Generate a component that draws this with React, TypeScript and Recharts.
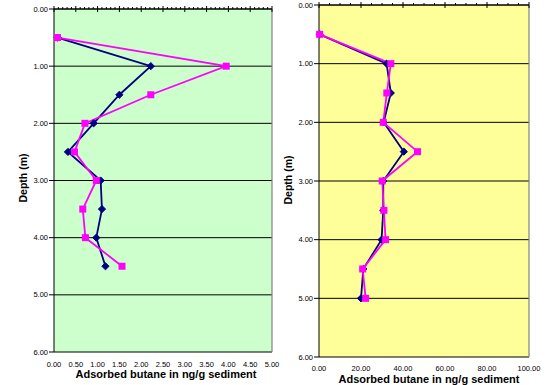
import React from 'react';
import { LineChart, Line, XAxis, YAxis, CartesianGrid, ReferenceLine } from 'recharts';

// depth profile values
const depthTicks = [0, 1, 2, 3, 4, 5, 6];

const leftDepths = [0.5, 1.0, 1.5, 2.0, 2.5, 3.0, 3.5, 4.0, 4.5];
const leftNavy = [0.08, 2.22, 1.5, 0.91, 0.32, 1.07, 1.1, 0.97, 1.18];
const leftPink = [0.08, 3.95, 2.22, 0.71, 0.47, 0.97, 0.66, 0.72, 1.56];
const leftXTicks = [0, 0.5, 1, 1.5, 2, 2.5, 3, 3.5, 4, 4.5, 5];

const rightDepths = [0.5, 1.0, 1.5, 2.0, 2.5, 3.0, 3.5, 4.0, 4.5, 5.0];
const rightNavy = [0.3, 32.2, 34.2, 30.8, 40.4, 30.6, 30.6, 29.8, 21.1, 20.0];
const rightPink = [0.3, 34.2, 32.3, 30.6, 46.9, 30.1, 30.9, 31.7, 20.8, 22.2];
const rightXTicks = [0, 20, 40, 60, 80, 100];

const FONT = '"Liberation Sans", Arial, sans-serif';
const NAVY = '#000080';
const PINK = '#FF00FF';

const fmt = (v: number) => v.toFixed(2);

function minorTicks(max: number, step: number) {
  const out: number[] = [];
  const n = Math.round(max / step);
  for (let i = 0; i <= n; i++) out.push(+(i * step).toFixed(4));
  return out;
}

const Diamond = (props: any) => {
  const { cx, cy, index } = props;
  if (cx == null || cy == null) return <g key={`d-${index}`} />;
  const r = 3.6;
  return (
    <polygon
      key={`d-${index}`}
      points={`${cx},${cy - r} ${cx + r},${cy} ${cx},${cy + r} ${cx - r},${cy}`}
      fill={NAVY}
      stroke={NAVY}
    />
  );
};

const Square = (props: any) => {
  const { cx, cy, index } = props;
  if (cx == null || cy == null) return <g key={`s-${index}`} />;
  const r = 3.5;
  return <rect key={`s-${index}`} x={cx - r} y={cy - r} width={2 * r} height={2 * r} fill={PINK} />;
};

type PanelProps = {
  data: any[];
  xMax: number;
  xTicks: number[];
  minorStep: number;
  majorStep: number;
  bg: string;
  width: number;
  margin: { top: number; right: number; left: number; bottom: number };
  yWidth: number;
  bottomH: number;
  tickGap: number;
  depthPos: [number, number];
  titlePos: [number, number];
};

function Panel(p: PanelProps) {
  const topTick = (props: any) => {
    const { x, y, payload, index } = props;
    const q = payload.value / p.majorStep;
    const major = Math.abs(q - Math.round(q)) < 1e-6;
    return (
      <line
        key={`tt-${index}`}
        x1={x}
        x2={x}
        y1={y - (major ? 3 : 2)}
        y2={y + (major ? 3 : 0)}
        stroke="#000"
        strokeWidth={1}
      />
    );
  };

  return (
    <LineChart width={p.width} height={385} data={p.data} layout="vertical" margin={p.margin}>
      <CartesianGrid xAxisId="b" yAxisId="d" vertical={false} stroke="#000" fill={p.bg} fillOpacity={1} />
      <XAxis
        xAxisId="b"
        type="number"
        orientation="bottom"
        domain={[0, p.xMax]}
        ticks={p.xTicks}
        interval={0}
        tickFormatter={fmt}
        tickSize={0}
        tickMargin={p.tickGap}
        axisLine={false}
        tickLine={false}
        height={p.bottomH}
        tick={{ fontSize: 7.5, fill: '#000', fontFamily: FONT }}
        label={{
          content: () => (
            <text
              x={p.titlePos[0]}
              y={p.titlePos[1]}
              textAnchor="middle"
              fontFamily={FONT}
              fontWeight="bold"
              fontSize={11}
              fill="#000"
            >
              Adsorbed butane in ng/g sediment
            </text>
          ),
        }}
      />
      <XAxis
        xAxisId="t"
        type="number"
        orientation="top"
        domain={[0, p.xMax]}
        allowDataOverflow
        ticks={minorTicks(p.xMax, p.minorStep)}
        interval={0}
        height={1}
        tickSize={0}
        tickMargin={0}
        tickLine={false}
        axisLine={{ stroke: '#000' }}
        tick={topTick}
      />
      <YAxis
        yAxisId="d"
        type="number"
        dataKey="depth"
        domain={[0, 6]}
        ticks={depthTicks}
        interval={0}
        width={p.yWidth}
        tickFormatter={fmt}
        tickSize={5}
        tickMargin={1}
        axisLine={{ stroke: '#000' }}
        tickLine={{ stroke: '#000' }}
        tick={{ fontSize: 7.5, fill: '#000', fontFamily: FONT }}
        label={{
          content: () => (
            <text
              x={p.depthPos[0]}
              y={p.depthPos[1]}
              transform={`rotate(-90 ${p.depthPos[0]} ${p.depthPos[1]})`}
              textAnchor="middle"
              dominantBaseline="central"
              fontFamily={FONT}
              fontWeight="bold"
              fontSize={10.5}
              fill="#000"
            >
              Depth (m)
            </text>
          ),
        }}
      />
      <ReferenceLine xAxisId="b" yAxisId="d" x={p.xMax} stroke="#808080" strokeWidth={1.2} />
      <Line
        xAxisId="b"
        yAxisId="d"
        dataKey="navy"
        type="linear"
        stroke={NAVY}
        strokeWidth={1.8}
        dot={Diamond}
        activeDot={false}
        isAnimationActive={false}
      />
      <Line
        xAxisId="b"
        yAxisId="d"
        dataKey="pink"
        type="linear"
        stroke={PINK}
        strokeWidth={1.8}
        dot={Square}
        activeDot={false}
        isAnimationActive={false}
      />
    </LineChart>
  );
}

const leftData = leftDepths.map((depth, i) => ({ depth, navy: leftNavy[i], pink: leftPink[i] }));
const rightData = rightDepths.map((depth, i) => ({ depth, navy: rightNavy[i], pink: rightPink[i] }));

export default function App() {
  return (
    <div style={{ position: 'absolute', left: 0, top: 0, width: 557, height: 385, background: '#fff' }}>
      <div style={{ position: 'absolute', left: 0, top: 0 }}>
        <Panel
          data={leftData}
          xMax={5}
          xTicks={leftXTicks}
          minorStep={0.1}
          majorStep={0.5}
          bg="#CCFFCC"
          width={280}
          margin={{ top: 8, right: 8, left: 0, bottom: 0 }}
          yWidth={54}
          bottomH={33}
          tickGap={10}
          depthPos={[23, 178]}
          titlePos={[166, 378]}
        />
      </div>
      <div style={{ position: 'absolute', left: 280, top: 0 }}>
        <Panel
          data={rightData}
          xMax={100}
          xTicks={rightXTicks}
          minorStep={5}
          majorStep={20}
          bg="#FFFF99"
          width={277}
          margin={{ top: 4, right: 28, left: 0, bottom: 0 }}
          yWidth={39}
          bottomH={28}
          tickGap={9}
          depthPos={[8, 180]}
          titlePos={[149, 383]}
        />
      </div>
    </div>
  );
}
